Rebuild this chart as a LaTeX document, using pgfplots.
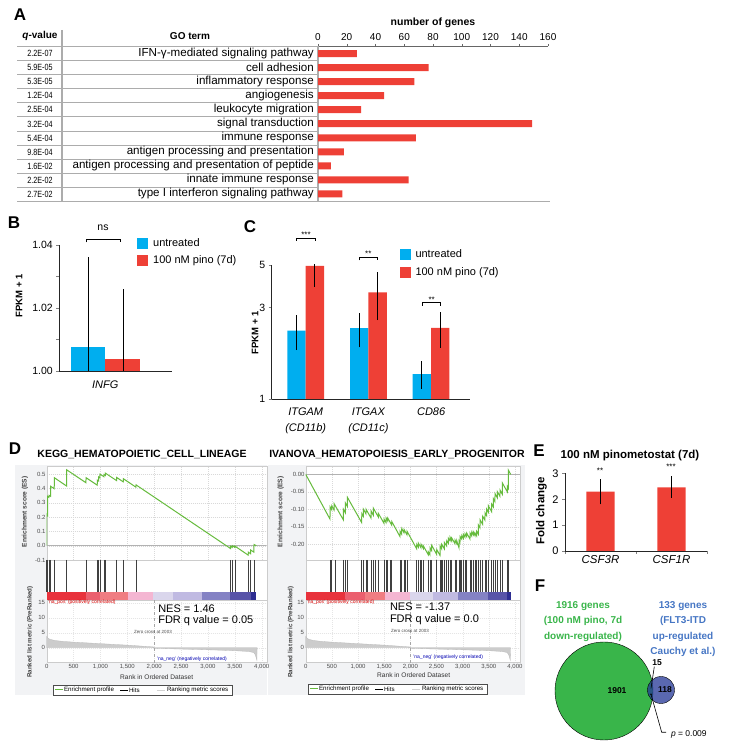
\documentclass[border=0pt]{standalone}
\usepackage{fontspec}
\setmainfont{Liberation Sans}
\newfontfamily\narrowfont[FakeStretch=0.8]{Liberation Sans}
\usepackage{pgfplots}
\pgfplotsset{compat=1.18}
\pgfplotsset{/pgf/number format/assume math mode=true}
\newcommand{\fs}[2]{\fontsize{#1}{#2}\selectfont}
\definecolor{myred}{RGB}{238,64,54}
\definecolor{mycyan}{RGB}{0,174,239}
\definecolor{esgreen}{RGB}{102,187,61}
\definecolor{venngreen}{RGB}{57,181,74}
\definecolor{vennblue}{RGB}{35,54,150}
\definecolor{venntext}{RGB}{70,118,196}
\definecolor{bggray}{RGB}{242,243,245}
\definecolor{cbA}{RGB}{232,50,60}
\definecolor{cbB}{RGB}{235,95,110}
\definecolor{cbC}{RGB}{240,125,130}
\definecolor{cbD}{RGB}{244,182,210}
\definecolor{cbE}{RGB}{218,214,236}
\definecolor{cbF}{RGB}{192,186,226}
\definecolor{cbG}{RGB}{132,130,196}
\definecolor{cbH}{RGB}{88,84,168}
\definecolor{cbI}{RGB}{45,45,145}
\begin{document}
\begin{tikzpicture}[x=1pt,y=1pt,t/.style={inner sep=0pt, outer sep=0pt}]
\path[use as bounding box] (0,0) rectangle (728,752);

% ================= Panel A =================
\node[t,font=\bfseries\fs{17}{19}] at (20,737) {A};
\node[t,font=\bfseries\fs{10.5}{12}] at (433,729) {number of genes};
\node[t,font=\bfseries\fs{10}{12}] at (40,716) {\textit{q}-value};
\node[t,font=\bfseries\fs{10}{12}] at (190,716) {GO term};
\foreach \k in {0,...,10} \draw[gray!65, line width=0.9pt] (17,{752-46.7-14.05*\k}) -- (318,{752-46.7-14.05*\k});
\draw[gray!65, line width=0.9pt] (17,{752-201.2}) -- (550,{752-201.2});
\draw[gray!65, line width=1.1pt] (62,{752-30}) -- (62,{752-201.2});
\foreach \q [count=\i] in {2.2E-07,5.9E-05,5.3E-05,1.2E-04,2.5E-04,3.2E-04,5.4E-04,9.8E-04,1.6E-02,2.2E-02,2.7E-02}
  \node[t,font=\narrowfont\fs{9}{10}] at (40,{752-53.7-14.05*(\i-1)}) {\q};
\begin{axis}[at={(318pt,551pt)}, anchor=south west, scale only axis, width=230pt, height=154.5pt,
  xmin=0, xmax=160, ymin=0.5, ymax=11.5,
  axis x line*=top, axis y line*=left,
  x axis line style={draw=gray!80!black, line width=0.8pt, -},
  y axis line style={draw=gray!65, line width=1.2pt, -},
  xtick={0,20,40,60,80,100,120,140,160}, tick align=outside, major tick length=2.5pt,
  xtick style={draw=gray!80!black},
  xticklabel style={font=\fs{10}{12}},
  ytick={1,2,3,4,5,6,7,8,9,10,11},
  yticklabels={type I interferon signaling pathway, innate immune response, antigen processing and presentation of peptide, antigen processing and presentation, immune response, signal transduction, leukocyte migration, angiogenesis, inflammatory response, cell adhesion, IFN-γ-mediated signaling pathway},
  ytick style={draw=none},
  yticklabel style={font=\fs{11.6}{13}, inner sep=0pt, xshift=-1.5pt},
]
\addplot[xbar, bar width=7pt, bar shift=0pt, fill=myred, draw=none] coordinates {(27,11)(77,10)(67,9)(46,8)(30,7)(149,6)(68,5)(18,4)(9,3)(63,2)(17,1)};
\end{axis}

% ================= Panel B =================
\node[t,font=\bfseries\fs{17}{19}] at (14,529) {B};
\node[t,font=\fs{10.5}{12}] at (103,524) {ns};
\draw[black, line width=0.7pt] (86.7,509.5) -- (86.7,512.7) -- (120,512.7) -- (120,509.5);
\node[t,font=\bfseries\fs{9.5}{11},rotate=90] at (19,456) {FPKM + 1};
\begin{axis}[at={(59.3pt,381pt)}, anchor=south west, scale only axis, width=112.4pt, height=126pt,
  xmin=-1.341, xmax=1.936, ymin=1, ymax=1.04,
  axis lines*=left, axis line style={-, line width=0.8pt, black!85},
  ytick={1,1.02,1.04}, yticklabels={1.00,1.02,1.04}, minor ytick={1.01,1.03},
  tick align=outside, major tick length=3pt, minor tick length=3pt,
  xtick={0}, xticklabels={INFG}, xtick style={draw=none},
  yticklabel style={font=\fs{10.5}{12}},
  xticklabel style={font=\fs{11}{13}\itshape, yshift=-3pt},
  legend style={at={(0.691,1.065)}, anchor=north west, draw=none, fill=none, inner sep=0pt,
    font=\fs{11}{13}, row sep=5pt, nodes={inner sep=1.5pt},
    /tikz/every odd column/.append style={column sep=3.5pt}},
  legend cell align=left,
  legend image code/.code={\fill[#1] (0pt,-5.5pt) rectangle (11pt,5.5pt);},
]
\addplot[ybar, bar width=1, bar shift=0pt, fill=mycyan, draw=none] coordinates {(-0.5,1.0077)};
\addlegendentry{untreated}
\addplot[ybar, bar width=1, bar shift=0pt, fill=myred, draw=none] coordinates {(0.5,1.0038)};
\addlegendentry{100 nM pino (7d)}
\addplot[black, line width=0.9pt, forget plot] coordinates {(-0.496,0.99)(-0.496,1.0362)};
\addplot[black, line width=0.9pt, forget plot] coordinates {(0.525,0.99)(0.525,1.026)};
\end{axis}

% ================= Panel C =================
\node[t,font=\bfseries\fs{17}{19}] at (250,525) {C};
\node[t,font=\bfseries\fs{9.5}{11},rotate=90] at (255,419) {FPKM + 1};
\node[t,font=\fs{8}{9},anchor=south] at (306,514.5) {***};
\draw[black, line width=0.7pt] (296.7,511) -- (296.7,514) -- (315,514) -- (315,511);
\node[t,font=\fs{8}{9},anchor=south] at (368.3,495.2) {**};
\draw[black, line width=0.7pt] (359,491.7) -- (359,494.7) -- (377.7,494.7) -- (377.7,491.7);
\node[t,font=\fs{8}{9},anchor=south] at (431.7,449.8) {**};
\draw[black, line width=0.7pt] (422.7,446.3) -- (422.7,449.3) -- (440.7,449.3) -- (440.7,446.3);
\begin{axis}[at={(271.7pt,353pt)}, anchor=south west, scale only axis, width=198.3pt, height=134pt,
  xmin=-0.542, xmax=2.62, ymode=log, ymin=1, ymax=5,
  axis lines*=left, axis line style={-, line width=0.8pt, black!85},
  ytick={1,3,5}, yticklabels={1,3,5}, yminorticks=false,
  tick align=outside, major tick length=3pt,
  xtick={0,1,2}, xticklabels={{ITGAM\\(CD11b)},{ITGAX\\(CD11c)},{CD86}}, xtick style={draw=none},
  yticklabel style={font=\fs{10.5}{12}},
  xticklabel style={font=\fs{11}{16}\itshape, align=center, yshift=-2pt},
  legend style={at={(0.6435,1.125)}, anchor=north west, draw=none, fill=none, inner sep=0pt,
    font=\fs{11}{13}, row sep=5pt, nodes={inner sep=1.5pt},
    /tikz/every odd column/.append style={column sep=3.5pt}},
  legend cell align=left,
  legend image code/.code={\fill[#1] (0pt,-5.5pt) rectangle (11pt,5.5pt);},
]
\addplot[ybar, bar width=0.293, bar shift=0pt, fill=mycyan, draw=none] coordinates {(-0.1465,2.27)(0.8535,2.34)(1.8535,1.35)};
\addlegendentry{untreated}
\addplot[ybar, bar width=0.293, bar shift=0pt, fill=myred, draw=none] coordinates {(0.1465,4.94)(1.1465,3.60)(2.1465,2.35)};
\addlegendentry{100 nM pino (7d)}
\addplot[black, line width=0.9pt, forget plot] coordinates {(-0.1465,1.80)(-0.1465,2.74)};
\addplot[black, line width=0.9pt, forget plot] coordinates {(0.1465,3.85)(0.1465,6.0)};
\addplot[black, line width=0.9pt, forget plot] coordinates {(0.8535,1.86)(0.8535,2.82)};
\addplot[black, line width=0.9pt, forget plot] coordinates {(1.1465,2.58)(1.1465,4.62)};
\addplot[black, line width=0.9pt, forget plot] coordinates {(1.8535,1.13)(1.8535,1.58)};
\addplot[black, line width=0.9pt, forget plot] coordinates {(2.1465,1.85)(2.1465,2.83)};
\end{axis}

% ================= Panel D =================
\node[t,font=\bfseries\fs{17}{19}] at (15,303) {D};
\node[t,font=\bfseries\fs{10.5}{12}] at (142,298) {KEGG\_HEMATOPOIETIC\_CELL\_LINEAGE};
\node[t,font=\bfseries\fs{10.5}{12}] at (397,298) {IVANOVA\_HEMATOPOIESIS\_EARLY\_PROGENITOR};
\fill[bggray] (15,57) rectangle (266.7,287);
\fill[bggray] (267.5,57) rectangle (525,287);
% labels
\node[t,font=\bfseries\fs{6.6}{7},rotate=90,text=black!75] at (25,240) {Enrichment score (ES)};
\node[t,font=\bfseries\fs{6.2}{7},rotate=90,text=black!75] at (30,120) {Ranked list metric (PreRanked)};
\node[t,font=\bfseries\fs{6.6}{7},rotate=90,text=black!75] at (280.7,240) {Enrichment score (ES)};
\node[t,font=\bfseries\fs{6.2}{7},rotate=90,text=black!75] at (290.7,120) {Ranked list metric (PreRanked)};
\node[t,font=\fs{6.6}{7},text=black!80] at (156.7,75.3) {Rank in Ordered Dataset};
\node[t,font=\fs{6.6}{7},text=black!80] at (413.7,77) {Rank in Ordered Dataset};

% left ES
\begin{axis}[at={(46.7pt,192pt)}, anchor=south west, scale only axis, width=220pt, height=93.3pt,
  xmin=0, xmax=4093, ymin=-0.1, ymax=0.552,
  axis background/.style={fill=white}, axis line style={draw=gray!40, line width=0.4pt},
  xtick={0,500,1000,1500,2000,2500,3000,3500,4000}, xticklabels={},
  ytick={-0.1,0,0.1,0.2,0.3,0.4,0.5}, yticklabels={-0.1,0.0,0.1,0.2,0.3,0.4,0.5},
  grid=major, grid style={gray!30, dash pattern=on 1pt off 1pt, line width=0.3pt},
  tick style={draw=none}, yticklabel style={font=\fs{6}{7}, text=black!70, inner sep=1pt},
]
\addplot[gray!60, line width=0.6pt] coordinates {(0,0)(4093,0)};
\addplot[esgreen, line width=1pt] coordinates {(0,0)(1,0.22)(16,0.212)(18,0.345)(42,0.338)(44,0.352)(72,0.345)(74,0.415)(140,0.398)(142,0.475)(370,0.417)(372,0.53)(730,0.44)(732,0.475)(940,0.423)(942,0.458)(966,0.452)(968,0.48)(990,0.474)(992,0.5)(1065,0.482)(1067,0.497)(1090,0.491)(1092,0.507)(1300,0.455)(1302,0.477)(1424,0.446)(1426,0.468)(1660,0.409)(1662,0.425)(3421,-0.02)(3423,-0.004)(3452,-0.012)(3454,0.0)(3500,-0.012)(3502,-0.003)(3749,-0.066)(3751,-0.045)(3793,-0.056)(3795,-0.03)(3855,-0.045)(3857,0.008)(3900,0.0)};
\end{axis}
% left hits + colour bar
\begin{axis}[at={(46.7pt,152pt)}, anchor=south west, scale only axis, width=220pt, height=40pt,
  xmin=0, xmax=4093, ymin=-0.262, ymax=1,
  axis background/.style={fill=white}, axis line style={draw=gray!40, line width=0.4pt},
  xtick=\empty, ytick=\empty, clip=true,
]
\addplot[fill=cbA, draw=none] coordinates {(0,-0.262)(733,-0.262)} \closedcycle;
\addplot[fill=cbB, draw=none] coordinates {(733,-0.262)(993,-0.262)} \closedcycle;
\addplot[fill=cbC, draw=none] coordinates {(993,-0.262)(1507,-0.262)} \closedcycle;
\addplot[fill=cbD, draw=none] coordinates {(1507,-0.262)(1984,-0.262)} \closedcycle;
\addplot[fill=cbE, draw=none] coordinates {(1984,-0.262)(2356,-0.262)} \closedcycle;
\addplot[fill=cbF, draw=none] coordinates {(2356,-0.262)(2895,-0.262)} \closedcycle;
\addplot[fill=cbG, draw=none] coordinates {(2895,-0.262)(3410,-0.262)} \closedcycle;
\addplot[fill=cbH, draw=none] coordinates {(3410,-0.262)(3794,-0.262)} \closedcycle;
\addplot[fill=cbI, draw=none] coordinates {(3794,-0.262)(3893,-0.262)} \closedcycle;
\addplot[only marks, mark=|, mark size=15.85pt, mark options={draw=black!75, line width=0.55pt}] coordinates {(0,0.5)(18,0.5)(43,0.5)(74,0.5)(142,0.5)(371,0.5)(731,0.5)(942,0.5)(967,0.5)(991,0.5)(1066,0.5)(1091,0.5)(1301,0.5)(1425,0.5)(1661,0.5)(3422,0.5)(3453,0.5)(3502,0.5)(3750,0.5)(3794,0.5)(3856,0.5)};
\end{axis}
% left ranked metric
\begin{axis}[at={(46.7pt,89.3pt)}, anchor=south west, scale only axis, width=220pt, height=62.7pt,
  xmin=0, xmax=4093, ymin=-5, ymax=15.9,
  axis background/.style={fill=white}, axis line style={draw=gray!40, line width=0.4pt},
  xtick={0,500,1000,1500,2000,2500,3000,3500,4000},
  xticklabels={0,500,{1,000},{1,500},{2,000},{2,500},{3,000},{3,500},{4,000}},
  ytick={0,5,10,15}, yticklabels={0,5,10,15},
  grid=major, grid style={gray!20, dash pattern=on 1pt off 1pt, line width=0.3pt},
  tick style={draw=none}, tick label style={font=\fs{6}{7}, text=black!70, inner sep=1.5pt},
]
\addplot[fill=gray!40, draw=gray!55, line width=0.3pt] coordinates {(0,3.8)(20,3.2)(60,2.8)(150,2.4)(300,2.1)(500,1.85)(750,1.6)(1000,1.35)(1250,1.1)(1500,0.85)(1750,0.55)(1990,0.25)(2003,0)(2010,-0.2)(2300,-0.35)(2700,-0.55)(3100,-0.75)(3500,-1.0)(3750,-1.25)(3850,-1.6)(3880,-2.3)(3900,-3.5)(3910,-4.2)(3915,0)} \closedcycle;
\addplot[gray!70, dashed, line width=0.4pt] coordinates {(2003,-5)(2003,15.9)};
\end{axis}
\node[t,anchor=west,font=\fs{5}{6},text=red!85!black] at (48,149.3) {'na\_pos' (positively correlated)};
\node[t,anchor=west,font=\fs{5}{6},text=blue!70!black] at (157,93) {'na\_neg' (negatively correlated)};
\node[t,font=\fs{4.5}{5},text=black!70] at (153,120.3) {Zero cross at 2003};
\node[t,anchor=west,font=\fs{11}{13}] at (158.3,143) {NES = 1.46};
\node[t,anchor=west,font=\fs{11}{13}] at (158.3,131) {FDR q value = 0.05};
\draw[black!70, line width=0.5pt, fill=white] (53,57) rectangle (232,67);
\draw[esgreen, line width=1pt] (55,62) -- (63,62);
\node[t,anchor=west,font=\fs{6.2}{7}] at (64,62) {Enrichment profile};
\draw[black, line width=0.6pt] (120,62) -- (128,62);
\node[t,anchor=west,font=\fs{6.2}{7}] at (129,62) {Hits};
\draw[gray!35, line width=0.8pt] (157,62) -- (165,62);
\node[t,anchor=west,font=\fs{6.2}{7}] at (167,62) {Ranking metric scores};

% right ES
\begin{axis}[at={(305.7pt,192pt)}, anchor=south west, scale only axis, width=214.5pt, height=93.3pt,
  xmin=0, xmax=4100, ymin=-0.245, ymax=0.0218,
  axis background/.style={fill=white}, axis line style={draw=gray!40, line width=0.4pt},
  xtick={0,500,1000,1500,2000,2500,3000,3500,4000}, xticklabels={},
  ytick={-0.2,-0.15,-0.1,-0.05,0}, yticklabels={-0.20,-0.15,-0.10,-0.05,0.00},
  grid=major, grid style={gray!30, dash pattern=on 1pt off 1pt, line width=0.3pt},
  tick style={draw=none}, yticklabel style={font=\fs{6}{7}, text=black!70, inner sep=1pt},
]
\addplot[gray!60, line width=0.6pt] coordinates {(0,0)(4100,0)};
\addplot[esgreen, line width=1pt] coordinates {(0,0)(464,-0.128)(466,-0.093)(496,-0.101)(498,-0.09)(541,-0.102)(543,-0.084)(719,-0.13)(721,-0.10)(757,-0.11)(759,-0.082)(796,-0.092)(798,-0.066)(1070,-0.138)(1072,-0.112)(1101,-0.12)(1103,-0.10)(1152,-0.113)(1154,-0.10)(1248,-0.125)(1250,-0.105)(1292,-0.117)(1294,-0.097)(1388,-0.122)(1390,-0.112)(1496,-0.14)(1498,-0.128)(1535,-0.138)(1537,-0.125)(1566,-0.133)(1568,-0.125)(1643,-0.145)(1645,-0.135)(1802,-0.178)(1804,-0.163)(1834,-0.171)(1836,-0.155)(1879,-0.167)(1881,-0.158)(1936,-0.173)(1938,-0.163)(2121,-0.213)(2123,-0.2)(2152,-0.208)(2154,-0.197)(2203,-0.21)(2205,-0.2)(2248,-0.212)(2250,-0.205)(2343,-0.23)(2345,-0.222)(2375,-0.23)(2377,-0.21)(2407,-0.218)(2409,-0.203)(2503,-0.229)(2505,-0.215)(2567,-0.232)(2569,-0.205)(2598,-0.213)(2600,-0.2)(2649,-0.213)(2651,-0.195)(2694,-0.205)(2696,-0.19)(2726,-0.197)(2728,-0.183)(2758,-0.19)(2760,-0.18)(2789,-0.19)(2791,-0.182)(2853,-0.198)(2855,-0.188)(2885,-0.197)(2887,-0.19)(2930,-0.21)(2932,-0.19)(2949,-0.195)(2951,-0.178)(2981,-0.185)(2983,-0.175)(3012,-0.183)(3014,-0.172)(3044,-0.18)(3046,-0.17)(3076,-0.178)(3078,-0.168)(3140,-0.185)(3142,-0.168)(3172,-0.176)(3174,-0.165)(3203,-0.173)(3205,-0.165)(3235,-0.175)(3237,-0.168)(3267,-0.176)(3269,-0.163)(3299,-0.171)(3301,-0.145)(3331,-0.153)(3333,-0.13)(3382,-0.143)(3384,-0.12)(3426,-0.131)(3428,-0.11)(3458,-0.118)(3460,-0.1)(3490,-0.108)(3492,-0.09)(3554,-0.107)(3556,-0.085)(3586,-0.093)(3588,-0.07)(3617,-0.078)(3619,-0.055)(3662,-0.067)(3664,-0.05)(3713,-0.063)(3715,-0.045)(3758,-0.057)(3760,-0.025)(3853,-0.05)(3855,-0.035)(3872,-0.04)(3874,0.012)(3917,0.0)};
\end{axis}
% right hits + colour bar
\begin{axis}[at={(305.7pt,152pt)}, anchor=south west, scale only axis, width=214.5pt, height=40pt,
  xmin=0, xmax=4100, ymin=-0.262, ymax=1,
  axis background/.style={fill=white}, axis line style={draw=gray!40, line width=0.4pt},
  xtick=\empty, ytick=\empty, clip=true,
]
\addplot[fill=cbA, draw=none] coordinates {(0,-0.262)(751,-0.262)} \closedcycle;
\addplot[fill=cbB, draw=none] coordinates {(751,-0.262)(1130,-0.262)} \closedcycle;
\addplot[fill=cbC, draw=none] coordinates {(1130,-0.262)(1516,-0.262)} \closedcycle;
\addplot[fill=cbD, draw=none] coordinates {(1516,-0.262)(1993,-0.262)} \closedcycle;
\addplot[fill=cbE, draw=none] coordinates {(1993,-0.262)(2433,-0.262)} \closedcycle;
\addplot[fill=cbF, draw=none] coordinates {(2433,-0.262)(2910,-0.262)} \closedcycle;
\addplot[fill=cbG, draw=none] coordinates {(2910,-0.262)(3489,-0.262)} \closedcycle;
\addplot[fill=cbH, draw=none] coordinates {(3489,-0.262)(3841,-0.262)} \closedcycle;
\addplot[fill=cbI, draw=none] coordinates {(3841,-0.262)(3917,-0.262)} \closedcycle;
\addplot[only marks, mark=|, mark size=15.85pt, mark options={draw=black!75, line width=0.55pt}] coordinates {(464,0.5)(496,0.5)(560,0.5)(719,0.5)(757,0.5)(796,0.5)(1070,0.5)(1101,0.5)(1152,0.5)(1178,0.5)(1248,0.5)(1292,0.5)(1337,0.5)(1388,0.5)(1496,0.5)(1535,0.5)(1566,0.5)(1624,0.5)(1643,0.5)(1802,0.5)(1834,0.5)(1879,0.5)(1904,0.5)(1936,0.5)(2121,0.5)(2152,0.5)(2184,0.5)(2203,0.5)(2248,0.5)(2343,0.5)(2375,0.5)(2388,0.5)(2407,0.5)(2503,0.5)(2567,0.5)(2598,0.5)(2617,0.5)(2649,0.5)(2694,0.5)(2726,0.5)(2758,0.5)(2789,0.5)(2853,0.5)(2885,0.5)(2930,0.5)(2949,0.5)(2981,0.5)(3012,0.5)(3044,0.5)(3076,0.5)(3140,0.5)(3172,0.5)(3203,0.5)(3235,0.5)(3267,0.5)(3299,0.5)(3331,0.5)(3382,0.5)(3426,0.5)(3458,0.5)(3490,0.5)(3554,0.5)(3586,0.5)(3617,0.5)(3662,0.5)(3713,0.5)(3758,0.5)(3853,0.5)(3872,0.5)};
\end{axis}
% right ranked metric
\begin{axis}[at={(305.7pt,89.3pt)}, anchor=south west, scale only axis, width=214.5pt, height=62.7pt,
  xmin=0, xmax=4100, ymin=-5, ymax=15.9,
  axis background/.style={fill=white}, axis line style={draw=gray!40, line width=0.4pt},
  xtick={0,500,1000,1500,2000,2500,3000,3500,4000},
  xticklabels={0,500,{1,000},{1,500},{2,000},{2,500},{3,000},{3,500},{4,000}},
  ytick={0,5,10,15}, yticklabels={0,5,10,15},
  grid=major, grid style={gray!20, dash pattern=on 1pt off 1pt, line width=0.3pt},
  tick style={draw=none}, tick label style={font=\fs{6}{7}, text=black!70, inner sep=1.5pt},
]
\addplot[fill=gray!40, draw=gray!55, line width=0.3pt] coordinates {(0,3.8)(20,3.2)(60,2.8)(150,2.4)(300,2.1)(500,1.85)(750,1.6)(1000,1.35)(1250,1.1)(1500,0.85)(1750,0.55)(1990,0.25)(2003,0)(2010,-0.2)(2300,-0.35)(2700,-0.55)(3100,-0.75)(3500,-1.0)(3750,-1.25)(3850,-1.6)(3880,-2.3)(3900,-3.5)(3910,-4.2)(3915,0)} \closedcycle;
\addplot[gray!70, dashed, line width=0.4pt] coordinates {(2003,-5)(2003,15.9)};
\end{axis}
\node[t,anchor=west,font=\fs{5}{6},text=red!85!black] at (306.7,149.7) {'na\_pos' (positively correlated)};
\node[t,anchor=west,font=\fs{5}{6},text=blue!70!black] at (413.3,94.7) {'na\_neg' (negatively correlated)};
\node[t,font=\fs{4.5}{5},text=black!70] at (410,121.3) {Zero cross at 2003};
\node[t,anchor=west,font=\fs{11}{13}] at (390,145.3) {NES = -1.37};
\node[t,anchor=west,font=\fs{11}{13}] at (390,132) {FDR q value = 0.0};
\draw[black!70, line width=0.5pt, fill=white] (308,58) rectangle (487.5,68);
\draw[esgreen, line width=1pt] (310,63) -- (318,63);
\node[t,anchor=west,font=\fs{6.2}{7}] at (319,63) {Enrichment profile};
\draw[black, line width=0.6pt] (375,63) -- (383,63);
\node[t,anchor=west,font=\fs{6.2}{7}] at (384,63) {Hits};
\draw[gray!35, line width=0.8pt] (412,63) -- (420,63);
\node[t,anchor=west,font=\fs{6.2}{7}] at (422,63) {Ranking metric scores};

% ================= Panel E =================
\node[t,font=\bfseries\fs{17}{19}] at (539,301) {E};
\node[t,font=\bfseries\fs{11.5}{13}] at (630,296) {100 nM pinometostat (7d)};
\node[t,font=\bfseries\fs{11.5}{13},rotate=90] at (541.5,241) {Fold change};
\node[t,font=\fs{8}{9},anchor=south] at (600,278) {**};
\node[t,font=\fs{8}{9},anchor=south] at (671,282) {***};
\begin{axis}[at={(565pt,201pt)}, anchor=south west, scale only axis, width=142pt, height=77.7pt,
  xmin=-0.5, xmax=1.5, ymin=0, ymax=3,
  axis lines*=left, axis line style={-, line width=0.8pt, black!85},
  ytick={0,1,2,3}, tick align=outside, major tick length=3pt,
  xtick={-0.5,0.5,1.5}, xticklabels={},
  extra x ticks={0,1}, extra x tick labels={CSF3R,CSF1R},
  extra x tick style={major tick length=0pt, tick label style={font=\fs{11.5}{13}\itshape, yshift=-1pt}},
  yticklabel style={font=\fs{11}{12}},
]
\addplot[ybar, bar width=0.4, bar shift=0pt, fill=myred, draw=none] coordinates {(0,2.29)(1,2.46)};
\addplot[black, line width=0.9pt] coordinates {(0,1.80)(0,2.77)};
\addplot[black, line width=0.9pt] coordinates {(1,2.06)(1,2.90)};
\end{axis}

% ================= Panel F =================
\node[t,font=\bfseries\fs{17}{19}] at (540,166) {F};
\begin{axis}[at={(540pt,0pt)}, anchor=south west, scale only axis, width=188pt, height=152pt,
  xmin=0, xmax=188, ymin=0, ymax=152, hide axis, clip=false]
\addplot[only marks, mark=*, mark size=49pt, mark options={fill=venngreen, draw=none}] coordinates {(64,61)};
\addplot[only marks, mark=*, mark size=13.5pt, mark options={fill=vennblue, draw=none, fill opacity=0.75}] coordinates {(121,62)};
\end{axis}
\node[t,font=\bfseries\fs{10}{12},text=venngreen,align=center] at (583,130.5) {1916 genes\\[3.5pt](100 nM pino, 7d\\[3.5pt]down-regulated)};
\node[t,font=\bfseries\fs{10}{12},text=venntext,align=center] at (683,122.8) {133 genes\\[3.5pt](FLT3-ITD\\[3.5pt]up-regulated\\[3.5pt]Cauchy et al.)};
\node[t,font=\bfseries\fs{8.5}{10}] at (657,89) {15};
\node[t,font=\bfseries\fs{8.5}{10}] at (617,61.3) {1901};
\node[t,font=\bfseries\fs{8.5}{10}] at (665,62.5) {118};
\node[t,anchor=west,font=\fs{8.5}{10}] at (671,18) {\textit{p} = 0.009};
\draw[black, line width=0.6pt] (654.3,85.3) -- (651,63.7);
\fill[black] (651,57.7) circle (0.9);
\draw[black, line width=0.6pt] (651,57.7) -- (661.7,19.7) -- (666,19.7);
\end{tikzpicture}
\end{document}
